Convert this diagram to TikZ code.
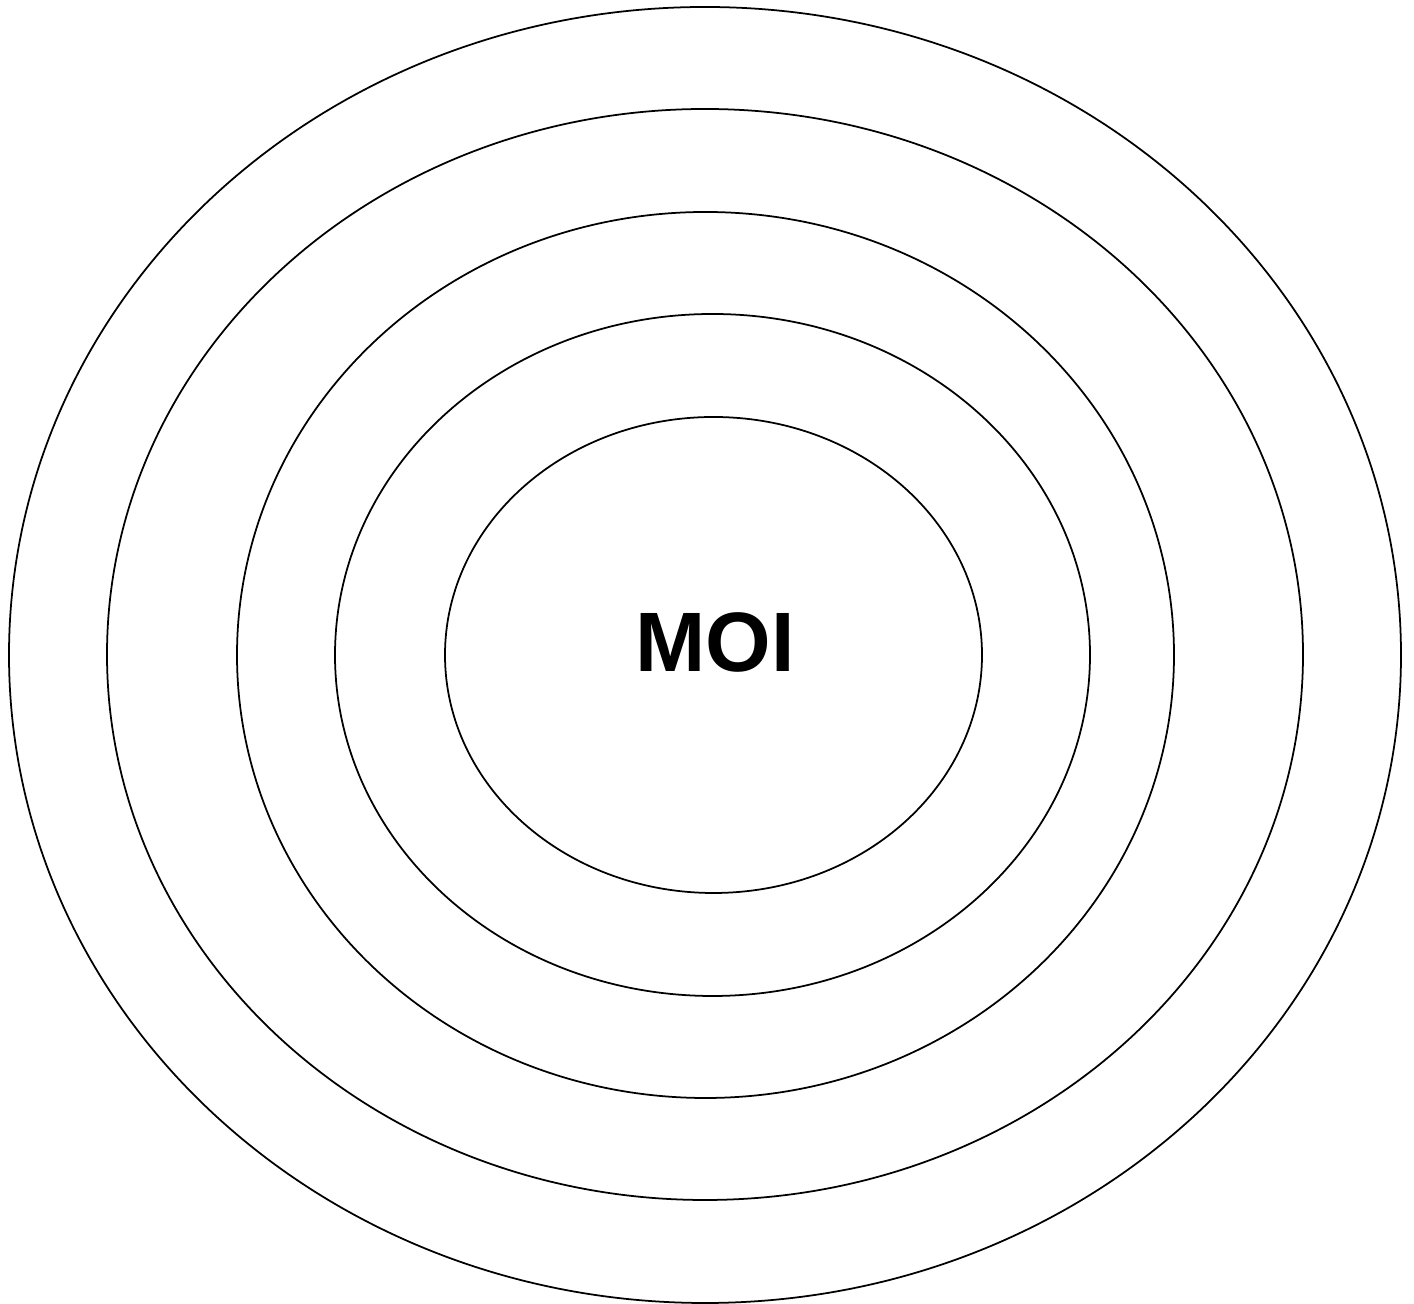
\documentclass[tikz,border=0pt]{standalone}
\usepackage{fontspec}
\newfontfamily\moifont{Liberation Sans}
\usetikzlibrary{math}

\begin{document}
\begin{tikzpicture}[x=0.02cm, y=0.02cm]
\tikzmath{
\u=0.02;
}
\useasboundingbox (0,0) rectangle (1414,1304);

% rings, from outer to inner: centre x, centre y, x radius, y radius
\foreach \cx/\cy/\rx/\ry in {705/649/696/648, 705/649.5/598/545.5, 705.5/649/468.5/443, 712.5/649/377.5/341, 713.5/649/268.5/238}{
\draw[line width=1pt] (\cx,\cy) ellipse ({\rx*\u cm} and {\ry*\u cm});
}

\node[font=\moifont\bfseries\fontsize{48}{50}\selectfont] (moi) at (715,662) {MOI};
\end{tikzpicture}
\end{document}
